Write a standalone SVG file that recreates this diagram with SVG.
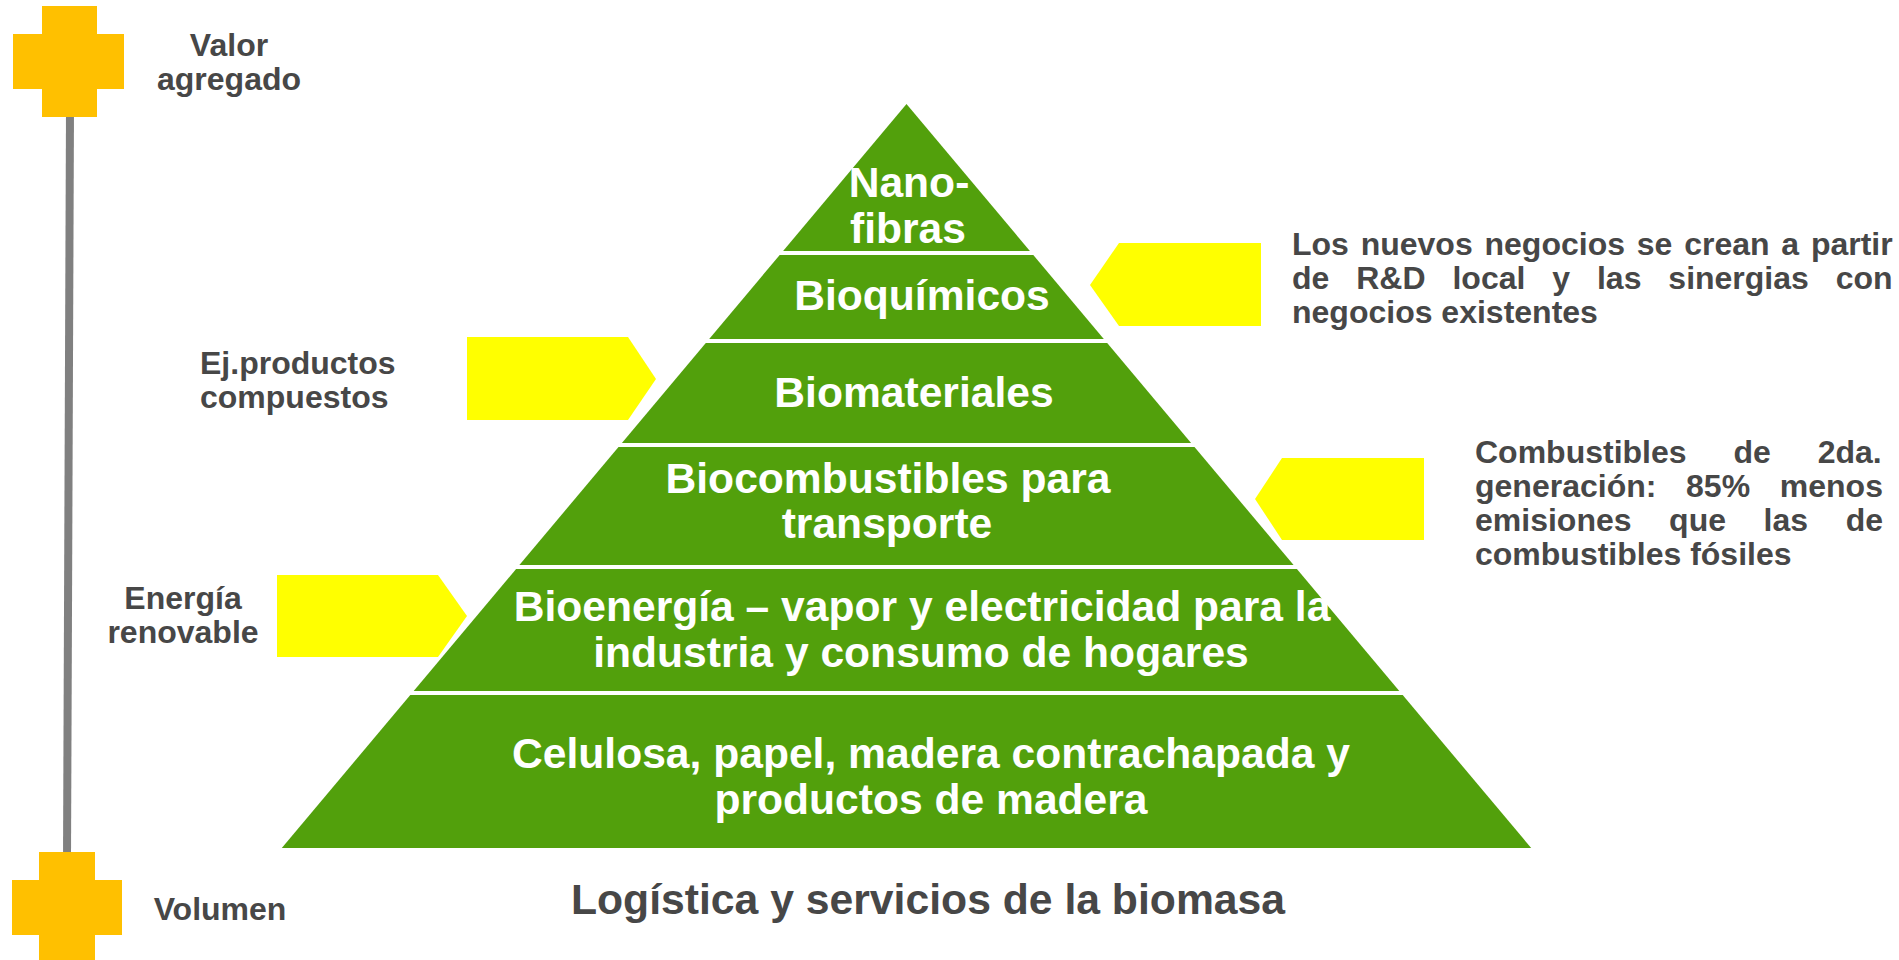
<svg xmlns="http://www.w3.org/2000/svg" width="1899" height="960" viewBox="0 0 1899 960">
<style>
.lvl{fill:#52a00c;}
.pt{font-family:"Liberation Sans",Arial,sans-serif;font-weight:bold;font-size:42.6px;fill:#ffffff;text-anchor:middle;}
.gt{font-family:"Liberation Sans",Arial,sans-serif;font-weight:bold;font-size:32px;fill:#474747;}
.cross{fill:#ffc000;}
.arw{fill:#ffff00;}
</style>
<rect width="1899" height="960" fill="#ffffff"/>
<g id="connectors">
  <line x1="70" y1="110" x2="67" y2="860" stroke="#808080" stroke-width="8"/>
  <polygon class="arw" points="1119,243 1261,243 1261,326 1119,326 1090,285"/>
  <polygon class="arw" points="467,337 628,337 656,379 628,420 467,420"/>
  <polygon class="arw" points="1282,458 1424,458 1424,540 1282,540 1255,499"/>
  <polygon class="arw" points="277,575 438,575 467,616 438,657 277,657"/>
</g>
<g id="cross-top">
  <rect class="cross" x="42" y="6" width="55" height="111"/>
  <rect class="cross" x="13" y="34" width="111" height="55"/>
</g>
<g id="cross-bottom">
  <rect class="cross" x="39" y="852" width="56" height="111"/>
  <rect class="cross" x="12" y="880" width="110" height="55"/>
</g>
<g id="label-valor">
  <text class="gt" x="229" y="56" text-anchor="middle">Valor</text>
  <text class="gt" x="229" y="90" text-anchor="middle">agregado</text>
</g>
<g id="label-volumen">
  <text class="gt" x="220" y="920" text-anchor="middle">Volumen</text>
</g>
<g id="level-nanofibras">
  <polygon class="lvl" points="906.5,104 1029.9,251 783.1,251"/>
  <text class="pt" x="909" y="197">Nano-</text>
  <text class="pt" x="908" y="243">fibras</text>
</g>
<g id="level-bioquimicos">
  <polygon class="lvl" points="779.7,255 1033.3,255 1103.8,339 709.2,339"/>
  <text class="pt" x="922" y="310">Bioquímicos</text>
</g>
<g id="level-biomateriales">
  <polygon class="lvl" points="705.8,343 1107.2,343 1191.1,443 621.9,443"/>
  <text class="pt" x="914" y="407">Biomateriales</text>
</g>
<g id="level-biocombustibles">
  <polygon class="lvl" points="618.5,447 1194.5,447 1293.6,565 519.4,565"/>
  <text class="pt" x="888" y="493">Biocombustibles para</text>
  <text class="pt" x="887" y="538">transporte</text>
</g>
<g id="level-bioenergia">
  <polygon class="lvl" points="516.1,569 1296.9,569 1399.3,691 413.7,691"/>
  <text class="pt" x="922" y="621">Bioenergía – vapor y electricidad para la</text>
  <text class="pt" x="921" y="667">industria y consumo de hogares</text>
</g>
<g id="level-celulosa">
  <polygon class="lvl" points="410.3,695 1402.7,695 1531.2,848 281.8,848"/>
  <text class="pt" x="931" y="768">Celulosa, papel, madera contrachapada y</text>
  <text class="pt" x="931" y="814">productos de madera</text>
</g>
<g id="label-logistica">
  <text class="gt" x="928" y="914" text-anchor="middle" style="font-size:42.7px">Logística y servicios de la biomasa</text>
</g>
<g id="label-productos">
  <text class="gt" x="200" y="374">Ej.productos</text>
  <text class="gt" x="200" y="408">compuestos</text>
</g>
<g id="label-energia">
  <text class="gt" x="183" y="609" text-anchor="middle">Energía</text>
  <text class="gt" x="183" y="643" text-anchor="middle">renovable</text>
</g>
<g id="label-negocios">
  <text class="gt" x="1292" y="255" word-spacing="2.9">Los nuevos negocios se crean a partir</text>
  <text class="gt" x="1292" y="289" word-spacing="18">de R&amp;D local y las sinergias con</text>
  <text class="gt" x="1292" y="323">negocios existentes</text>
</g>
<g id="label-combustibles">
  <text class="gt" x="1475" y="463" word-spacing="38">Combustibles de 2da.</text>
  <text class="gt" x="1475" y="497" word-spacing="20.8">generación: 85% menos</text>
  <text class="gt" x="1475" y="531" word-spacing="28.7">emisiones que las de</text>
  <text class="gt" x="1475" y="565">combustibles fósiles</text>
</g>
</svg>
